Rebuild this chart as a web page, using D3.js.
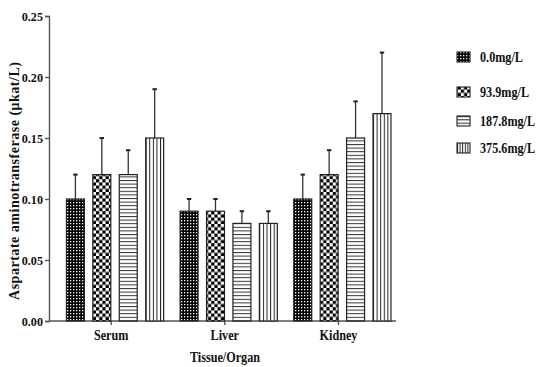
<!DOCTYPE html>
<html><head><meta charset="utf-8">
<script src="https://cdn.jsdelivr.net/npm/d3@7"></script>
<style>
html,body{margin:0;padding:0;background:#fff;}
svg text{font-family:"Liberation Serif",serif !important;font-weight:bold;fill:#111;}
</style></head>
<body><svg id="c" width="537" height="367"></svg>
<script>
const groups = ["Serum", "Liver", "Kidney"];
const series = ["0.0mg/L", "93.9mg/L", "187.8mg/L", "375.6mg/L"];
const means = [
  [0.10, 0.12, 0.12, 0.15],
  [0.09, 0.09, 0.08, 0.08],
  [0.10, 0.12, 0.15, 0.17]
];
const errs = [
  [0.02, 0.03, 0.02, 0.04],
  [0.01, 0.01, 0.01, 0.01],
  [0.02, 0.02, 0.03, 0.05]
];
const yTicks = [0.00, 0.05, 0.10, 0.15, 0.20, 0.25];
const legendY = [57, 92, 121, 148];

const svg = d3.select("#c");
const defs = svg.append("defs");
const p0 = defs.append("pattern").attr("id","p0").attr("patternUnits","userSpaceOnUse").attr("width",3).attr("height",3);
p0.append("rect").attr("width",3).attr("height",3).attr("fill","#000");
p0.append("rect").attr("x",1).attr("y",1).attr("width",1.3).attr("height",1.3).attr("fill","#fff");
const p1 = defs.append("pattern").attr("id","p1").attr("patternUnits","userSpaceOnUse").attr("width",6.4).attr("height",6.4);
p1.append("rect").attr("width",6.4).attr("height",6.4).attr("fill","#fff");
p1.append("rect").attr("width",3.2).attr("height",3.2).attr("fill","#000");
p1.append("rect").attr("x",3.2).attr("y",3.2).attr("width",3.2).attr("height",3.2).attr("fill","#000");
const p2 = defs.append("pattern").attr("id","p2").attr("patternUnits","userSpaceOnUse").attr("width",4).attr("height",3.6);
p2.append("rect").attr("width",4).attr("height",3.6).attr("fill","#fff");
p2.append("rect").attr("y",0).attr("width",4).attr("height",1).attr("fill","#333");
const p3 = defs.append("pattern").attr("id","p3").attr("patternUnits","objectBoundingBox").attr("width",0.2).attr("height",1);
p3.append("rect").attr("width",20).attr("height",400).attr("fill","#fff");
p3.append("rect").attr("x",0).attr("width",1).attr("height",400).attr("fill","#222");
const lp2 = defs.append("pattern").attr("id","lp2").attr("patternUnits","objectBoundingBox").attr("width",1).attr("height",1/3);
lp2.append("rect").attr("width",20).attr("height",20).attr("fill","#fff");
lp2.append("rect").attr("width",20).attr("height",1).attr("fill","#222");
const fills = ["url(#p0)","url(#p1)","url(#p2)","url(#p3)"];
const legFills = ["url(#p0)","url(#p1)","url(#lp2)","url(#p3)"];
const SQ = "scale(0.87,1)";

const y = d3.scaleLinear().domain([0,0.25]).range([321,16]);
const x0 = d3.scaleBand().domain(groups).range([54.3,395.3]).paddingInner(0).paddingOuter(0);
const x1 = d3.scaleBand().domain(series).range([0,97.2]).paddingInner(0.32).paddingOuter(0);
const gOff = (x0.bandwidth()-97.2)/2 + 3.9;

const yAxis = d3.axisLeft(y).tickValues(yTicks).tickFormat(d3.format(".2f")).tickSize(4).tickPadding(2);
const ya = svg.append("g").attr("transform","translate(49,0)").call(yAxis);
ya.attr("font-family",null);
ya.selectAll("text").attr("font-size",13.5).attr("x",null)
  .attr("transform","translate(-6,0) " + "scale(0.9,1)");
ya.selectAll("path,line").attr("stroke","#555").attr("stroke-width",1.4);

const xAxis = d3.axisBottom(x0).tickSize(4).tickPadding(5);
const xa = svg.append("g").attr("transform","translate(0,321)").call(xAxis);
xa.attr("font-family",null);
xa.select(".domain").remove();
xa.append("line").attr("x1",49).attr("x2",396).attr("stroke","#555").attr("stroke-width",1.4);
xa.selectAll(".tick line").attr("stroke","#555").attr("stroke-width",1.4);
xa.selectAll("text").attr("font-size",14).attr("fill","#111").attr("transform",SQ);

const data = [];
groups.forEach((g,gi)=>series.forEach((s,si)=>data.push({g,s,si,v:means[gi][si],e:errs[gi][si]})));
const bx = d => x0(d.g)+gOff+x1(d.s);
const bars = svg.append("g");
bars.selectAll("line.err").data(data).join("line").attr("class","err")
  .attr("x1",d=>bx(d)+x1.bandwidth()/2).attr("x2",d=>bx(d)+x1.bandwidth()/2)
  .attr("y1",d=>y(d.v)).attr("y2",d=>y(d.v+d.e)).attr("stroke","#333").attr("stroke-width",1.3);
bars.selectAll("line.cap").data(data).join("line").attr("class","cap")
  .attr("x1",d=>bx(d)+x1.bandwidth()/2-2.2).attr("x2",d=>bx(d)+x1.bandwidth()/2+2.2)
  .attr("y1",d=>y(d.v+d.e)).attr("y2",d=>y(d.v+d.e)).attr("stroke","#222").attr("stroke-width",2);
bars.selectAll("rect").data(data).join("rect")
  .attr("x",d=>bx(d)).attr("width",x1.bandwidth())
  .attr("y",d=>y(d.v)).attr("height",d=>y(0)-y(d.v))
  .attr("fill",d=>fills[d.si]).attr("stroke","#222").attr("stroke-width",1.2);

svg.append("text").attr("transform","translate(225,362) " + SQ).attr("text-anchor","middle").attr("font-size",14).text("Tissue/Organ");
svg.append("text").attr("transform","translate(19,181) rotate(-90)").attr("text-anchor","middle")
  .attr("font-size",14).attr("textLength",238).attr("lengthAdjust","spacing")
  .text("Aspartate aminotransferase (μkat/L)");

const lg = svg.append("g");
series.forEach((s,i)=>{
  lg.append("rect").attr("x",457).attr("y",legendY[i]-5).attr("width",13).attr("height",10)
    .attr("fill",legFills[i]).attr("stroke","#222").attr("stroke-width",1.1);
  lg.append("text").attr("transform",`translate(480,${legendY[i]+4.5}) ${SQ}`).attr("font-size",14).text(s);
});
</script></body></html>
